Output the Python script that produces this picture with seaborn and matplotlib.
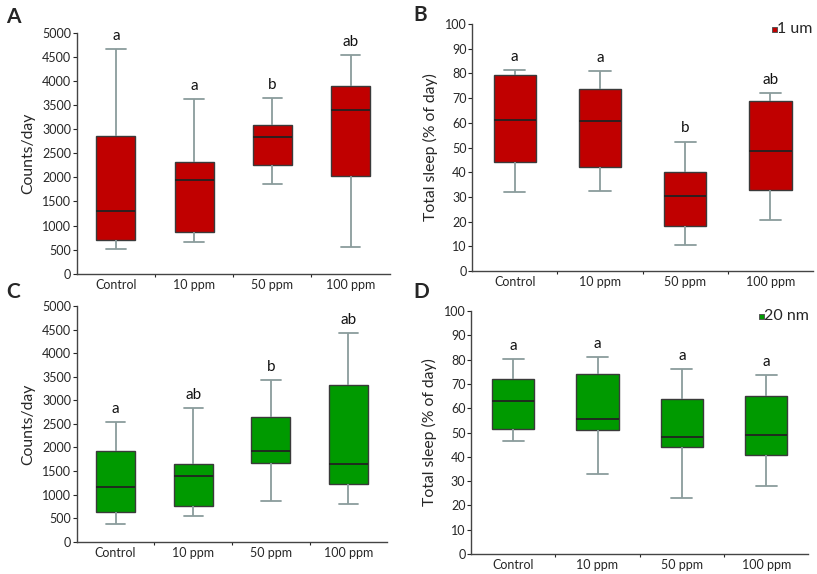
import numpy as np
import pandas as pd
import matplotlib.pyplot as plt
import seaborn as sns

# groups on the x axis
groups = ["Control", "10 ppm", "50 ppm", "100 ppm"]

# five-number summaries: [min, Q1, median, Q3, max]
counts_1um = [[512, 693, 1295, 2853, 4668],
              [651, 859, 1946, 2320, 3622],
              [1870, 2251, 2839, 3089, 3636],
              [547, 2036, 3400, 3899, 4536]]
sleep_1um = [[32.0, 44.1, 61.2, 79.5, 81.5],
             [32.4, 42.3, 60.8, 73.6, 81.1],
             [10.5, 18.1, 30.4, 40.1, 52.4],
             [20.7, 32.6, 48.4, 68.9, 71.9]]
counts_20nm = [[388, 628, 1164, 1932, 2539],
               [543, 755, 1403, 1657, 2835],
               [860, 1664, 1932, 2637, 3427],
               [811, 1234, 1657, 3329, 4422]]
sleep_20nm = [[46.6, 51.4, 62.8, 72.0, 80.4],
              [32.9, 50.9, 55.6, 74.1, 80.9],
              [23.2, 44.2, 48.1, 63.9, 76.0],
              [27.8, 40.7, 49.0, 65.2, 73.8]]

# significance letters
letters_a = ["a", "a", "b", "ab"]
letters_b = ["a", "a", "b", "ab"]
letters_c = ["a", "ab", "b", "ab"]
letters_d = ["a", "a", "a", "a"]

red = "#C00000"
green = "#009A00"

sns.set_style("white")
plt.rcParams['font.family'] = ['Lato', 'DejaVu Sans']


def to_long(summ):
    # 5 points per group -> quartiles of the box equal the summary values
    rows = []
    for g, vals in zip(groups, summ):
        for v in vals:
            rows.append({"group": g, "value": v})
    return pd.DataFrame(rows)


def panel(ax, summ, letters, color, ymax, ystep, ylabel, legend=None, leg_x=0.88):
    df = to_long(summ)
    sns.boxplot(data=df, x="group", y="value", order=groups, ax=ax,
                color=color, saturation=1, width=0.5, whis=(0, 100),
                linewidth=1,
                boxprops=dict(edgecolor="#3a3a3a"),
                medianprops=dict(color="#222222", linewidth=1.3),
                whiskerprops=dict(color="#8a9c9c", linewidth=1.3),
                capprops=dict(color="#8a9c9c", linewidth=1.3))
    for i, (vals, lt) in enumerate(zip(summ, letters)):
        ax.text(i, vals[4] + ymax * 0.025, lt, ha="center", va="bottom",
                fontsize=11, color="#111111")
    ax.set_ylim(0, ymax)
    ax.set_xlim(-0.5, 3.5)
    ax.set_yticks(np.arange(0, ymax + 1, ystep))
    ax.tick_params(axis="y", labelsize=9, length=3, width=0.8, left=True, pad=1)
    ax.tick_params(axis="x", labelsize=9, length=0, pad=3.5)
    ax.set_xticks(range(4))
    ax.set_xticks([0.5, 1.5, 2.5], minor=True)
    ax.tick_params(axis="x", which="minor", length=2, width=0.8, bottom=True)
    ax.set_xlabel("")
    ax.set_ylabel(ylabel, fontsize=11.3, labelpad=5)
    for s in ["top", "right"]:
        ax.spines[s].set_visible(False)
    for s in ["left", "bottom"]:
        ax.spines[s].set_color("#444444")
        ax.spines[s].set_linewidth(1.0)
    if legend:
        ax.plot([leg_x], [0.98], marker="s", markersize=3.6, color=color,
                markeredgecolor="#555555", markeredgewidth=0.7,
                transform=ax.transAxes, clip_on=False)
        ax.text(leg_x + 0.009, 0.98, legend, transform=ax.transAxes, fontsize=11.5,
                va="center", ha="left")


fig = plt.figure(figsize=(8.17, 5.74), dpi=100)
ax_a = fig.add_axes([0.094, 0.523, 0.383, 0.420])
ax_b = fig.add_axes([0.578, 0.528, 0.417, 0.430])
ax_c = fig.add_axes([0.094, 0.056, 0.380, 0.411])
ax_d = fig.add_axes([0.5765, 0.035, 0.413, 0.423])

panel(ax_a, counts_1um, letters_a, red, 5000, 500, "Counts/day")
panel(ax_b, sleep_1um, letters_b, red, 100, 10, "Total sleep (% of day)",
      legend="1 um", leg_x=0.886)
panel(ax_c, counts_20nm, letters_c, green, 5000, 500, "Counts/day")
panel(ax_d, sleep_20nm, letters_d, green, 100, 10, "Total sleep (% of day)",
      legend="20 nm", leg_x=0.858)

# panel tags
for x, y, tag in [(0.008, 0.988, "A"), (0.506, 0.992, "B"),
                  (0.008, 0.508, "C"), (0.506, 0.508, "D")]:
    fig.text(x, y, tag, fontsize=15, fontweight="bold", va="top", ha="left")

fig.savefig("out.png", dpi=100)
